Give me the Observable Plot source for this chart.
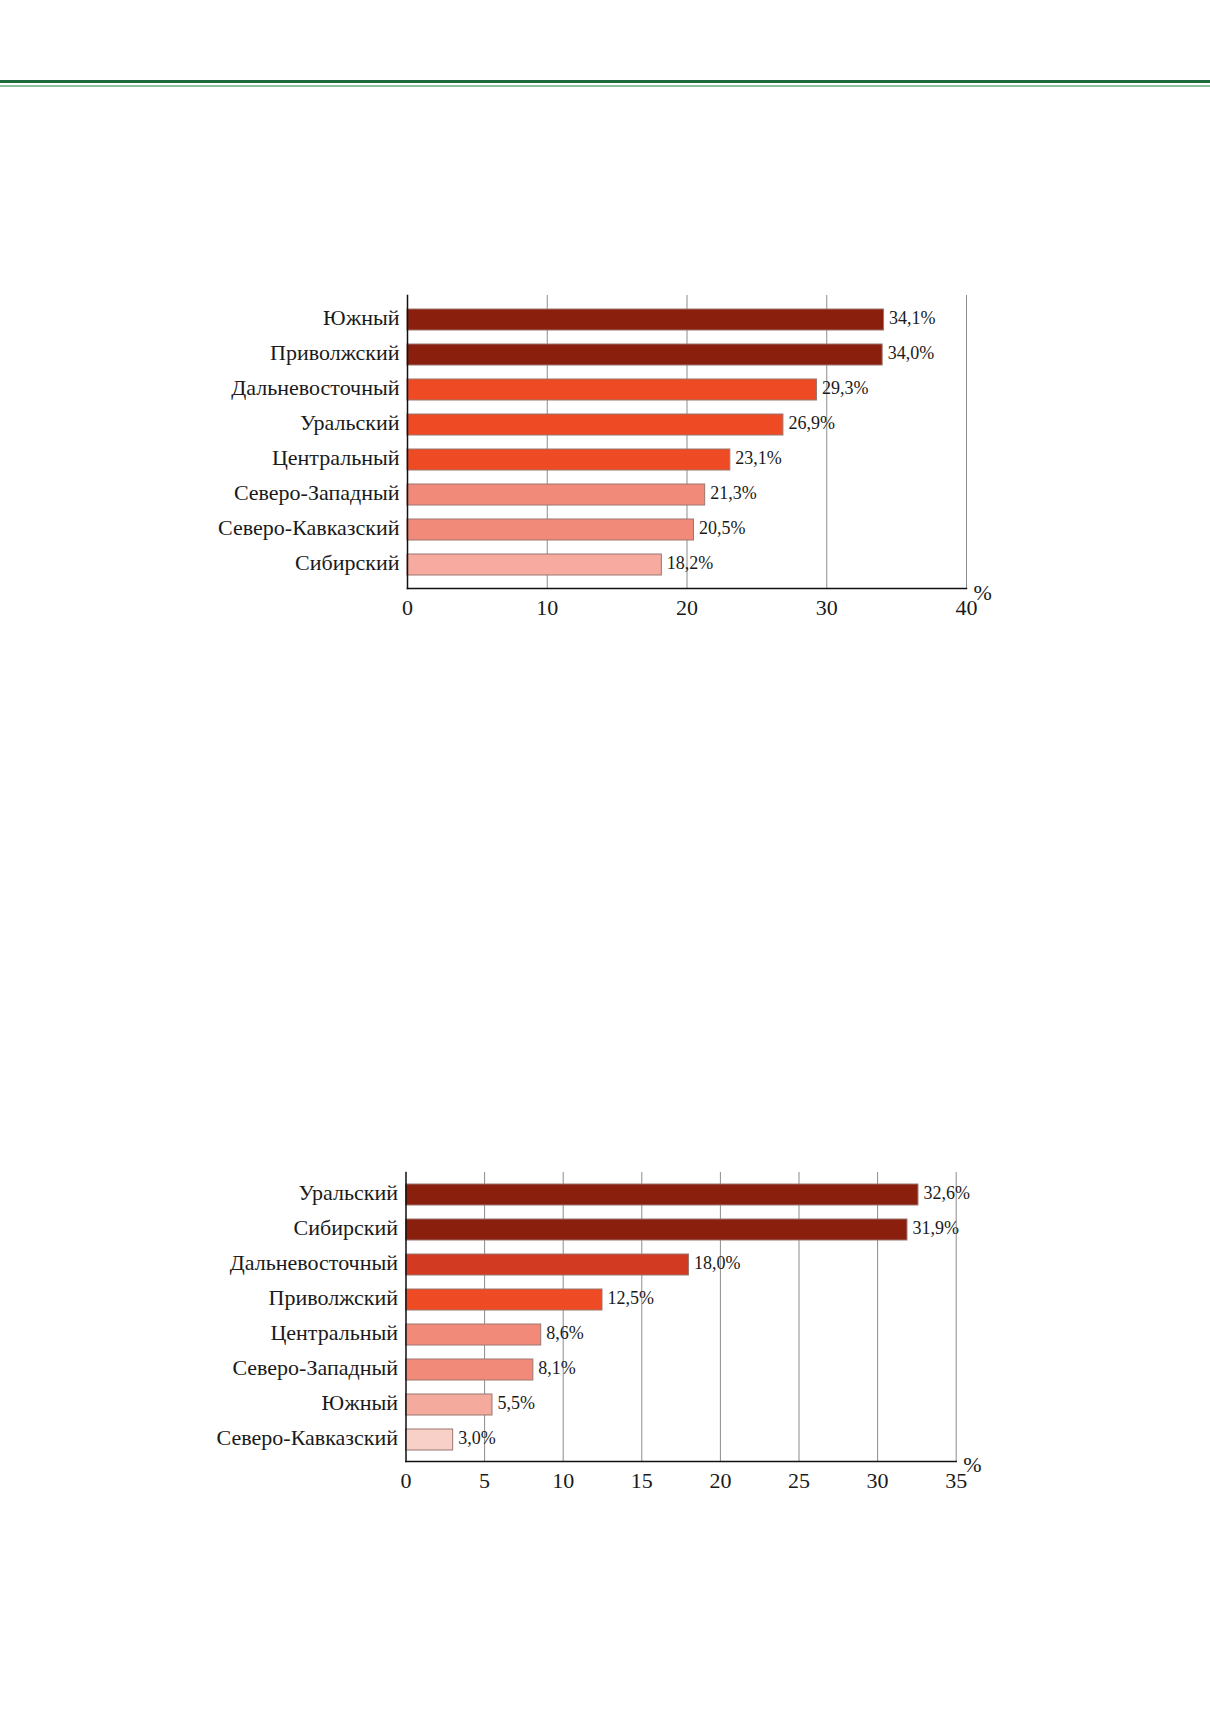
<!DOCTYPE html>
<html>
<head>
<meta charset="utf-8">
<script src="https://cdn.jsdelivr.net/npm/d3@7"></script>
<script src="https://cdn.jsdelivr.net/npm/@observablehq/plot@0.6"></script>
<style>
  html, body { margin: 0; padding: 0; background: #fff; }
  #page { position: relative; width: 1210px; height: 1712px; background: #fff; overflow: hidden; }
  .rule-dark { position: absolute; left: 0; top: 80px; width: 1210px; height: 3px; background: #1d6b3c; }
  .rule-light { position: absolute; left: 0; top: 85px; width: 1210px; height: 1.5px; background: #8dbf9f; }
  .chart { position: absolute; left: 0; }
</style>
</head>
<body>
<div id="page">
  <div class="rule-dark"></div>
  <div class="rule-light"></div>
  <div class="chart" id="c1" style="top:250px"></div>
  <div class="chart" id="c2" style="top:1130px"></div>
</div>
<script>
// ---- Chart 1 data ----
const regions1 = ["Южный", "Приволжский", "Дальневосточный", "Уральский", "Центральный", "Северо-Западный", "Северо-Кавказский", "Сибирский"];
const values1 = [34.1, 34.0, 29.3, 26.9, 23.1, 21.3, 20.5, 18.2];
const palette1 = ["#8a1f0e", "#8a1f0e", "#ee4a24", "#ee4a24", "#ee4a24", "#f28a7a", "#f28a7a", "#f7aba0"];
const ticks1 = [0, 10, 20, 30, 40];

// ---- Chart 2 data ----
const regions2 = ["Уральский", "Сибирский", "Дальневосточный", "Приволжский", "Центральный", "Северо-Западный", "Южный", "Северо-Кавказский"];
const values2 = [32.6, 31.9, 18.0, 12.5, 8.6, 8.1, 5.5, 3.0];
const palette2 = ["#8a1f0e", "#8a1f0e", "#d23b22", "#ee4a24", "#f28a7a", "#f28a7a", "#f4aa9c", "#f9d0c8"];
const ticks2 = [0, 5, 10, 15, 20, 25, 30, 35];

const FONT = "'Liberation Serif', 'Times New Roman', serif";
const fmt = v => v.toFixed(1).replace(".", ",") + "%";

function makeChart(regions, values, palette, ticks, opts) {
  const data = regions.map((r, i) => ({region: r, value: values[i]}));
  const xmax = ticks[ticks.length - 1];
  return Plot.plot({
    width: 1210,
    height: opts.height,
    marginLeft: opts.marginLeft,
    marginRight: opts.marginRight,
    marginTop: opts.marginTop,
    marginBottom: opts.marginBottom,
    style: {fontFamily: FONT, background: "transparent", color: "#1a1a1a"},
    x: {domain: [0, xmax], axis: null},
    y: {domain: regions, paddingInner: 0.41, paddingOuter: 0.33, axis: null},
    color: {type: "ordinal", domain: regions, range: palette},
    marks: [
      Plot.ruleX(ticks.filter(t => t > 0), {stroke: "#8c8c8c", strokeWidth: 1}),
      Plot.barX(data, {x: "value", y: "region", fill: "region", stroke: "#9a7770", strokeWidth: 1}),
      Plot.frame({anchor: "left", stroke: "#111", strokeWidth: 1.5}),
      Plot.frame({anchor: "bottom", stroke: "#111", strokeWidth: 1.5}),
      Plot.axisY({tickSize: 0, tickPadding: 8, fontSize: 22, label: null, dy: -2}),
      Plot.axisX({ticks: ticks, tickSize: 0, tickPadding: 11, fontSize: 22, tickFormat: d => String(d), label: null}),
      Plot.text(data, {x: "value", y: "region", text: d => fmt(d.value), textAnchor: "start", dx: 5, dy: -2, fontSize: 18, fill: "#1a1a1a"}),
      Plot.text(["%"], {x: () => xmax, frameAnchor: "bottom", text: d => d, textAnchor: "start", dx: 7, dy: opts.pctDy, fontSize: 22, fill: "#1a1a1a"})
    ]
  });
}

document.getElementById("c1").appendChild(makeChart(regions1, values1, palette1, ticks1, {
  height: 380, marginLeft: 407, marginRight: 244, marginTop: 45, marginBottom: 42, pctDy: 11
}));

document.getElementById("c2").appendChild(makeChart(regions2, values2, palette2, ticks2, {
  height: 375, marginLeft: 405.5, marginRight: 254.3, marginTop: 42, marginBottom: 44, pctDy: 10
}));
</script>
</body>
</html>
